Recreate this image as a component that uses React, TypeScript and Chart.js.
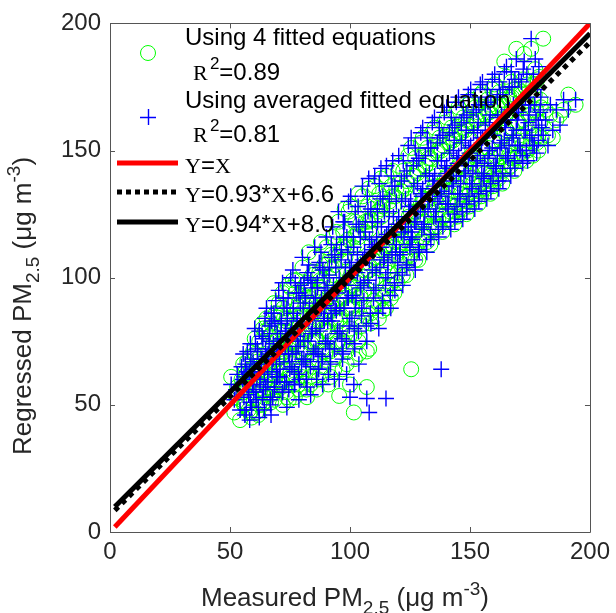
import React, { useEffect, useRef } from "react";
import { Chart, registerables } from "chart.js";

Chart.register(...registerables);

// Measured PM2.5 (x) shared by both regressed series
const measured = [
  50.5, 51.8, 53, 54.2, 52.5, 54.8,
  55.5, 56.2, 57, 57.8, 58.5, 59, 56.8, 59.6, 55.9, 58.2,
  60.3, 60.9, 61.5, 62.2, 62.8, 63.4, 64, 64.6, 61.2, 63.1, 64.3, 60.6, 62.5, 64.8,
  65.2, 65.7, 66.3, 66.9, 67.4, 68, 68.6, 69.1, 69.7, 65.9, 67.1, 68.3, 69.4, 66.6, 67.8, 69.9,
  70.3, 70.8, 71.4, 72, 72.5, 73.1, 73.7, 74.2, 74.8, 71.1, 72.8, 73.9, 70.6, 71.9, 74.5, 73.3,
  75.3, 75.9, 76.4, 77, 77.6, 78.1, 78.7, 79.3, 79.8, 76.2, 77.9, 78.9, 75.6, 76.8, 79.5, 78.4,
  80.2, 80.8, 81.3, 81.9, 82.5, 83, 83.6, 84.2, 84.7, 80.5, 81.6, 82.8, 83.9, 84.9, 82.1, 80.9,
  85.3, 85.8, 86.4, 87, 87.5, 88.1, 88.6, 89.2, 89.8, 85.6, 86.7, 87.9, 89, 89.6, 86.1, 88.3,
  90.2, 90.7, 91.3, 91.9, 92.4, 93, 93.5, 94.1, 94.7, 90.5, 91.6, 92.8, 93.8, 94.4, 91, 92.1,
  95.2, 95.8, 96.3, 96.9, 97.4, 98, 98.6, 99.1, 99.7, 95.5, 96.6, 97.8, 98.8, 99.4, 97.1, 99.9,
  100.3, 100.9, 101.5, 102, 102.6, 103.1, 103.7, 104.3, 104.8, 100.6, 101.8, 103.4, 104.5, 102.3,
  105.2, 105.8, 106.4, 107, 107.5, 108.1, 108.7, 109.3, 109.8, 106.1, 107.8, 109,
  110.3, 110.9, 111.5, 112, 112.6, 113.1, 113.7, 114.3, 114.8, 111.1, 112.9, 114,
  115.2, 115.8, 116.4, 117, 117.5, 118.1, 118.7, 119.3, 119.8, 116.1, 117.8, 119,
  120.3, 120.9, 121.5, 122, 122.6, 123.1, 123.7, 124.3, 124.8, 121.4, 125,
  125.5, 126, 126.6, 127.2, 127.8, 128.3, 128.9, 129.5, 129.9, 126.9,
  130.3, 130.9, 131.5, 132, 132.6, 133.1, 133.7, 134.3, 134.8, 131.2,
  135.2, 135.8, 136.4, 137, 137.5, 138.1, 138.7, 139.3, 139.8, 136.6,
  140.3, 140.9, 141.5, 142, 142.6, 143.1, 143.7, 144.3, 144.8, 141.2, 143.4, 144.6,
  145.2, 145.8, 146.4, 147, 147.5, 148.1, 148.7, 149.3, 149.8, 146.1, 148.4, 149.6,
  150.3, 150.9, 151.5, 152, 152.6, 153.1, 153.7, 154.3, 154.8, 151.2, 153.4, 154.6,
  155.2, 155.8, 156.4, 157, 157.5, 158.1, 158.7, 159.3, 159.8, 156.1, 158.4, 159.6,
  160.3, 160.9, 161.5, 162, 162.6, 163.1, 163.7, 164.3, 164.8, 161.4,
  165.2, 165.8, 166.4, 167, 167.5, 168.1, 168.7, 169.3, 169.8, 166.3,
  170.3, 170.9, 171.5, 172, 172.6, 173.1, 174, 174.6,
  175.5, 176.2, 177, 177.8, 178.5, 179.3,
  180.5, 181.5, 182.5, 183.5, 184.5,
  186, 187.5, 189, 191, 194,
  95.5, 100, 101.6, 107, 108, 115, 125.5, 138,
  // second pass of readings
  55.3, 55.8, 56.4, 56.8, 57.2, 57.5, 58.1, 58.5, 58.7, 59.3, 59.5, 59.9,
  60.3, 60.8, 61.4, 61.8, 62.2, 62.5, 63.1, 63.5, 63.7, 64.3, 64.5, 64.9,
  65.3, 65.8, 66.4, 66.8, 67.2, 67.5, 68.1, 68.5, 68.7, 69.3, 69.5, 69.9,
  70.3, 70.8, 71.4, 71.8, 72.2, 72.5, 73.1, 73.5, 73.7, 74.3, 74.5, 74.9,
  75.3, 75.8, 76.4, 76.8, 77.2, 77.5, 78.1, 78.5, 78.7, 79.3, 79.5, 79.9,
  80.3, 80.8, 81.4, 81.8, 82.2, 82.5, 83.1, 83.5, 83.7, 84.3, 84.5, 84.9,
  85.3, 85.8, 86.4, 86.8, 87.2, 87.5, 88.1, 88.5, 88.7, 89.3, 89.5, 89.9,
  90.3, 90.8, 91.4, 91.8, 92.2, 92.5, 93.1, 93.5, 93.7, 94.3, 94.5, 94.9,
  95.3, 95.8, 96.4, 96.8, 97.2, 97.5, 98.1, 98.5, 98.7, 99.3, 99.5, 99.9,
  100.3, 100.8, 101.4, 101.8, 102.2, 102.5, 103.1, 103.5, 103.7, 104.3, 104.5, 104.9,
  105.3, 105.8, 106.4, 106.8, 107.2, 107.5, 108.1, 108.5, 108.7, 109.3, 109.5, 109.9,
  110.3, 110.8, 111.4, 111.8, 112.2, 112.5, 113.1, 113.5, 113.7, 114.3, 114.5, 114.9,
  115.3, 115.8, 116.4, 116.8, 117.2, 117.5, 118.1, 118.5, 118.7, 119.3, 119.5, 119.9,
  120.3, 120.8, 121.4, 121.8, 122.2, 122.5, 123.1, 123.5, 123.7, 124.3, 124.5, 124.9,
  125.3, 125.8, 126.4, 126.8, 127.2, 127.5, 128.1, 128.5, 128.7, 129.3, 129.5, 129.9,
  130.3, 130.8, 131.4, 131.8, 132.2, 132.5, 133.1, 133.5, 133.7, 134.3, 134.5, 134.9,
  135.3, 135.8, 136.4, 136.8, 137.2, 137.5, 138.1, 138.5, 138.7, 139.3, 139.5, 139.9,
  140.3, 140.8, 141.4, 141.8, 142.2, 142.5, 143.1, 143.5, 143.7, 144.3, 144.5, 144.9,
  145.3, 145.8, 146.4, 146.8, 147.2, 147.5, 148.1, 148.5, 148.7, 149.3, 149.5, 149.9,
  150.3, 150.8, 151.4, 151.8, 152.2, 152.5, 153.1, 153.5, 153.7, 154.3, 154.5, 154.9,
  155.3, 155.8, 156.4, 156.8, 157.2, 157.5, 158.1, 158.5, 158.7, 159.3, 159.5, 159.9,
  160.3, 160.8, 161.4, 161.8, 162.2, 162.5, 163.1, 163.5, 163.7, 164.3, 164.5, 164.9,
  165.3, 165.8, 166.4, 166.8, 167.2, 167.5, 168.1, 168.5, 168.7, 169.3, 169.5, 169.9,
  170.3, 170.8, 171.4, 171.8, 172.2, 172.5, 173.1, 173.5, 173.7, 174.3, 174.5, 174.9,
  175.3, 175.8, 176.4, 176.8, 177.2, 177.5, 178.1, 178.5, 178.7, 179.3, 179.5, 179.9,
];

// Regressed PM2.5 using averaged fitted equation (blue +)
const regressedAvg = [
  58, 52, 62, 48, 56, 65,
  70, 46, 63, 54, 74, 49, 58, 67, 61, 44,
  80, 52, 71, 45, 63, 77, 56, 84, 60, 68, 48, 74, 58, 72,
  88, 62, 75, 50, 83, 68, 57, 91, 78, 70, 46, 86, 61, 81, 53, 72,
  95, 64, 82, 55, 88, 73, 49, 92, 67, 76, 59, 84, 70, 98, 56, 79,
  100, 70, 86, 58, 94, 77, 52, 90, 66, 103, 83, 60, 80, 63, 97, 73,
  108, 75, 92, 60, 100, 84, 54, 96, 70, 88, 67, 105, 78, 90, 57, 98,
  112, 80, 96, 64, 104, 88, 58, 100, 74, 92, 70, 110, 84, 95, 60, 67,
  116, 83, 101, 66, 108, 92, 60, 104, 78, 96, 72, 120, 88, 113, 62, 86,
  126, 88, 107, 68, 116, 97, 62, 110, 81, 100, 76, 122, 92, 130, 71, 104,
  132, 93, 112, 72, 121, 102, 66, 116, 85, 106, 80, 128, 96, 88,
  136, 98, 118, 75, 126, 107, 82, 122, 92, 110, 139, 113,
  140, 102, 122, 80, 131, 112, 88, 126, 97, 116, 143, 107,
  144, 106, 126, 88, 136, 116, 95, 130, 102, 120, 146, 110,
  148, 110, 130, 97, 140, 120, 104, 152, 126, 118, 112,
  155, 116, 136, 103, 146, 126, 110, 157, 132, 122,
  159, 120, 140, 110, 151, 130, 115, 161, 136, 126,
  163, 124, 146, 116, 155, 134, 120, 165, 141, 130,
  167, 127, 149, 119, 159, 138, 122, 169, 145, 133, 154, 128,
  171, 131, 153, 123, 163, 142, 126, 172, 149, 137, 158, 132,
  174, 135, 157, 127, 166, 146, 130, 176, 153, 141, 161, 136,
  177, 139, 160, 131, 169, 150, 134, 178, 156, 145, 164, 140,
  180, 143, 163, 135, 172, 153, 138, 181, 159, 148,
  183, 147, 166, 140, 175, 156, 143, 186, 162, 152,
  178, 150, 168, 145, 185, 158, 146, 164,
  194, 152, 168, 149, 160, 166,
  156, 162, 152, 168, 158,
  166, 160, 170, 166, 170,
  60, 53, 58, 52.5, 47, 52.5, 118, 64,
  // second pass of readings
  60, 53, 66, 48, 71, 56, 63, 51, 68, 58, 61, 55,
  64, 55, 72, 49, 79, 60, 68, 53, 76, 62, 66, 57,
  69, 59, 78, 52, 86, 63, 74, 56, 82, 66, 71, 61,
  73, 61, 83, 55, 92, 67, 79, 59, 88, 70, 76, 64,
  78, 65, 88, 58, 98, 71, 84, 62, 94, 75, 81, 68,
  82, 68, 93, 60, 102, 75, 88, 65, 99, 79, 85, 71,
  86, 72, 98, 64, 106, 79, 92, 69, 103, 83, 89, 75,
  91, 75, 104, 67, 113, 83, 97, 72, 109, 87, 94, 79,
  96, 79, 111, 70, 122, 88, 104, 75, 116, 92, 100, 84,
  101, 84, 116, 74, 126, 92, 109, 79, 120, 97, 105, 88,
  107, 91, 122, 81, 132, 99, 115, 86, 127, 103, 111, 95,
  112, 96, 127, 86, 137, 104, 120, 91, 132, 108, 116, 100,
  117, 102, 131, 93, 140, 109, 124, 98, 136, 113, 121, 106,
  124, 109, 138, 101, 146, 116, 131, 105, 142, 120, 128, 113,
  130, 115, 144, 107, 151, 122, 137, 111, 147, 126, 133, 119,
  135, 121, 148, 113, 155, 127, 141, 117, 151, 131, 138, 124,
  140, 126, 153, 119, 159, 132, 146, 122, 156, 136, 143, 129,
  144, 129, 157, 122, 163, 136, 150, 125, 160, 140, 147, 133,
  148, 133, 161, 126, 167, 140, 154, 129, 164, 144, 151, 137,
  152, 137, 165, 130, 171, 144, 158, 133, 168, 148, 155, 141,
  155, 140, 168, 134, 174, 147, 161, 137, 171, 151, 158, 144,
  158, 144, 171, 138, 177, 151, 164, 141, 174, 154, 161, 148,
  162, 148, 175, 143, 181, 155, 168, 146, 178, 158, 165, 152,
  165, 152, 177, 148, 182, 158, 171, 150, 180, 161, 168, 155,
  168, 156, 180, 152, 186, 162, 174, 154, 183, 165, 171, 159,
];

// Regressed PM2.5 using 4 fitted equations (green o)
const regressed4 = [
  61, 47, 57, 44, 53, 60,
  66, 50, 58, 48, 69, 45, 62, 71, 55, 47,
  76, 47, 67, 50, 58, 82, 51, 79, 64, 63, 53, 70, 55, 66,
  84, 57, 80, 54, 78, 64, 52, 86, 73, 66, 51, 90, 56, 77, 58, 68,
  90, 59, 86, 50, 84, 69, 53, 97, 62, 72, 64, 79, 74, 94, 52, 83,
  96, 66, 81, 53, 99, 73, 56, 86, 61, 99, 88, 65, 75, 58, 93, 78,
  104, 70, 97, 56, 95, 80, 58, 101, 65, 84, 72, 110, 74, 86, 53, 93,
  108, 76, 100, 60, 99, 84, 62, 105, 70, 88, 75, 114, 80, 91, 56, 72,
  112, 79, 106, 61, 104, 88, 64, 109, 74, 92, 77, 116, 84, 118, 58, 90,
  122, 84, 111, 64, 112, 93, 66, 115, 77, 96, 80, 127, 88, 126, 75, 100,
  128, 89, 116, 68, 117, 98, 70, 121, 81, 102, 84, 133, 92, 93,
  132, 94, 122, 71, 122, 103, 86, 127, 88, 106, 135, 117,
  136, 98, 126, 84, 127, 108, 92, 131, 93, 112, 139, 111,
  140, 102, 130, 92, 132, 112, 99, 135, 98, 116, 142, 114,
  144, 106, 134, 101, 136, 116, 108, 148, 131, 114, 108,
  151, 112, 140, 107, 142, 122, 114, 153, 137, 118,
  155, 116, 144, 114, 147, 126, 119, 157, 141, 122,
  159, 120, 150, 120, 151, 130, 124, 161, 146, 126,
  163, 123, 153, 123, 155, 134, 126, 165, 150, 129, 158, 124,
  167, 127, 157, 127, 159, 138, 130, 168, 154, 133, 162, 128,
  170, 131, 161, 131, 162, 142, 134, 172, 158, 137, 165, 132,
  173, 135, 164, 135, 165, 146, 138, 174, 161, 141, 168, 136,
  176, 139, 167, 139, 168, 149, 142, 185, 164, 144,
  179, 143, 170, 144, 171, 152, 147, 190, 167, 148,
  174, 146, 172, 149, 188, 154, 150, 168,
  190, 148, 172, 153, 156, 170,
  194, 166, 156, 164, 155,
  162, 164, 166, 172, 168,
  53.5, 58, 47, 57, 72, 88, 64, 130,
  // second pass of readings
  57, 50, 63, 51, 67, 60, 59, 47, 64, 62, 57, 52,
  60, 58, 68, 46, 75, 64, 64, 50, 80, 58, 70, 54,
  65, 62, 74, 56, 82, 67, 70, 60, 78, 63, 75, 57,
  69, 65, 79, 59, 88, 71, 75, 55, 84, 74, 72, 60,
  74, 69, 84, 62, 94, 75, 80, 58, 90, 71, 85, 64,
  78, 72, 89, 64, 98, 79, 92, 61, 95, 75, 81, 67,
  82, 76, 94, 68, 102, 83, 96, 65, 99, 79, 85, 71,
  87, 79, 100, 71, 109, 87, 101, 68, 105, 83, 90, 75,
  92, 83, 107, 74, 118, 92, 108, 71, 112, 88, 96, 80,
  97, 88, 112, 78, 122, 96, 113, 75, 116, 93, 101, 84,
  103, 95, 118, 85, 128, 103, 119, 82, 123, 99, 107, 91,
  108, 100, 123, 90, 133, 108, 124, 87, 128, 104, 112, 96,
  113, 106, 127, 97, 136, 113, 128, 94, 132, 109, 117, 102,
  120, 113, 134, 105, 142, 120, 135, 101, 138, 116, 124, 109,
  126, 119, 140, 111, 147, 126, 141, 107, 143, 122, 129, 115,
  131, 125, 144, 117, 151, 131, 145, 113, 147, 127, 134, 120,
  136, 130, 149, 123, 155, 136, 150, 118, 152, 132, 139, 125,
  140, 133, 153, 126, 159, 140, 154, 121, 156, 136, 143, 129,
  144, 137, 157, 130, 163, 144, 158, 125, 160, 140, 147, 133,
  148, 141, 161, 134, 167, 148, 162, 129, 164, 144, 151, 137,
  151, 144, 164, 138, 170, 151, 165, 133, 167, 147, 154, 140,
  154, 148, 167, 142, 173, 155, 168, 137, 170, 150, 157, 144,
  158, 152, 171, 147, 177, 159, 172, 142, 174, 154, 161, 148,
  161, 156, 173, 152, 178, 162, 175, 146, 176, 157, 164, 151,
  164, 160, 176, 156, 182, 166, 178, 150, 179, 161, 167, 155,
];

// Reference / fitted lines (end points)
const lineX = [2, 200];
const lineIdentity = [2, 200];
const lineFitDotted = [8.5, 192.6]; // Y=0.93*X+6.6
const lineFitSolid = [9.9, 196]; // Y=0.94*X+8.0

const axisTicks = [0, 50, 100, 150, 200];

const SANS = '"Liberation Sans", Arial, Helvetica, sans-serif';
const SERIF = '"Liberation Serif", "DejaVu Serif", serif';
const GREEN = "#00ff00";
const BLUE = "#0000ff";
const RED = "#ff0000";
const AXIS_COLOR = "#262626";
const FRAME_COLOR = "#555555";

type Seg = { t: string; font: string; dy: number };

function segWidth(ctx: CanvasRenderingContext2D, segs: Seg[]) {
  let w = 0;
  for (const s of segs) {
    ctx.font = s.font;
    w += ctx.measureText(s.t).width;
  }
  return w;
}

function drawSegs(ctx: CanvasRenderingContext2D, segs: Seg[], x: number, y: number) {
  let cx = x;
  ctx.textAlign = "left";
  ctx.textBaseline = "alphabetic";
  for (const s of segs) {
    ctx.font = s.font;
    ctx.fillText(s.t, cx, y + s.dy);
    cx += ctx.measureText(s.t).width;
  }
}

const overlayPlugin = {
  id: "overlay",
  afterDraw(chart: any) {
    const ctx: CanvasRenderingContext2D = chart.ctx;
    const { left, right, top, bottom } = chart.chartArea;
    const xs = chart.scales.x;
    const ys = chart.scales.y;
    ctx.save();
    // frame box
    ctx.strokeStyle = FRAME_COLOR;
    ctx.lineWidth = 1;
    ctx.beginPath();
    ctx.rect(Math.round(left) + 0.5, Math.round(top) + 0.5, Math.round(right - left), Math.round(bottom - top));
    ctx.stroke();
    // inward ticks
    const tl = 5;
    ctx.beginPath();
    for (const v of axisTicks) {
      const px = Math.round(xs.getPixelForValue(v)) + 0.5;
      ctx.moveTo(px, bottom);
      ctx.lineTo(px, bottom - tl);
      ctx.moveTo(px, top);
      ctx.lineTo(px, top + tl);
      const py = Math.round(ys.getPixelForValue(v)) + 0.5;
      ctx.moveTo(left, py);
      ctx.lineTo(left + tl, py);
      ctx.moveTo(right, py);
      ctx.lineTo(right - tl, py);
    }
    ctx.stroke();

    // axis titles
    ctx.fillStyle = AXIS_COLOR;
    const big = `24px ${SANS}`;
    const title = `26px ${SANS}`;
    const small = `19px ${SANS}`;
    const xTitle: Seg[] = [
      { t: "Measured PM", font: title, dy: 0 },
      { t: "2.5", font: small, dy: 8 },
      { t: " (μg m", font: title, dy: 0 },
      { t: "-3", font: small, dy: -11 },
      { t: ")", font: title, dy: 0 },
    ];
    const wx = segWidth(ctx, xTitle);
    drawSegs(ctx, xTitle, 345 - wx / 2, 606);

    const yTitle: Seg[] = [
      { t: "Regressed PM", font: title, dy: 0 },
      { t: "2.5", font: small, dy: 8 },
      { t: " (μg m", font: title, dy: 0 },
      { t: "-3", font: small, dy: -11 },
      { t: ")", font: title, dy: 0 },
    ];
    const wy = segWidth(ctx, yTitle);
    ctx.save();
    ctx.translate(31, 306);
    ctx.rotate(-Math.PI / 2);
    drawSegs(ctx, yTitle, -wy / 2, 0);
    ctx.restore();

    // legend
    ctx.fillStyle = "#000000";
    ctx.strokeStyle = GREEN;
    ctx.lineWidth = 1;
    ctx.beginPath();
    ctx.arc(148, 53, 7.5, 0, Math.PI * 2);
    ctx.stroke();
    ctx.strokeStyle = BLUE;
    ctx.lineWidth = 1.4;
    ctx.beginPath();
    ctx.moveTo(140, 117.5);
    ctx.lineTo(156, 117.5);
    ctx.moveTo(148.5, 109);
    ctx.lineTo(148.5, 125);
    ctx.stroke();
    ctx.lineWidth = 5;
    ctx.strokeStyle = RED;
    ctx.beginPath();
    ctx.moveTo(117, 163);
    ctx.lineTo(178, 163);
    ctx.stroke();
    ctx.strokeStyle = "#000000";
    ctx.setLineDash([5, 4]);
    ctx.beginPath();
    ctx.moveTo(117, 192);
    ctx.lineTo(178, 192);
    ctx.stroke();
    ctx.setLineDash([]);
    ctx.beginPath();
    ctx.moveTo(117, 222);
    ctx.lineTo(178, 222);
    ctx.stroke();

    const serif = `22px ${SERIF}`;
    const sup = `17px ${SANS}`;
    drawSegs(ctx, [{ t: "Using 4 fitted equations", font: big, dy: 0 }], 185, 45);
    drawSegs(ctx, [
      { t: "R", font: serif, dy: 0 },
      { t: " ", font: `8px ${SANS}`, dy: 0 },
      { t: "2", font: sup, dy: -11 },
      { t: "=0.89", font: big, dy: 0 },
    ], 193, 80);
    drawSegs(ctx, [{ t: "Using averaged fitted equation", font: big, dy: 0 }], 185, 108);
    drawSegs(ctx, [
      { t: "R", font: serif, dy: 0 },
      { t: " ", font: `8px ${SANS}`, dy: 0 },
      { t: "2", font: sup, dy: -11 },
      { t: "=0.81", font: big, dy: 0 },
    ], 193, 142);
    drawSegs(ctx, [
      { t: "Y", font: serif, dy: 0 },
      { t: "=", font: big, dy: 0 },
      { t: "X", font: serif, dy: 0 },
    ], 185, 173);
    drawSegs(ctx, [
      { t: "Y", font: serif, dy: 0 },
      { t: "=0.93*", font: big, dy: 0 },
      { t: "X", font: serif, dy: 0 },
      { t: "+6.6", font: big, dy: 0 },
    ], 185, 202);
    drawSegs(ctx, [
      { t: "Y", font: serif, dy: 0 },
      { t: "=0.94*", font: big, dy: 0 },
      { t: "X", font: serif, dy: 0 },
      { t: "+8.0", font: big, dy: 0 },
    ], 185, 232);
    ctx.restore();
  },
};

export default function App() {
  const ref = useRef<HTMLCanvasElement | null>(null);
  useEffect(() => {
    if (!ref.current) return;
    const greenPts = measured.map((x, i) => ({ x, y: regressed4[i] }));
    const bluePts = measured.map((x, i) => ({ x, y: regressedAvg[i] }));
    const mk = (ys: number[]) => lineX.map((x, i) => ({ x, y: ys[i] }));
    const chart = new Chart(ref.current, {
      type: "scatter",
      data: {
        datasets: [
          {
            label: "Using 4 fitted equations R2=0.89",
            data: greenPts,
            pointStyle: "circle",
            pointRadius: 7.5,
            pointBorderWidth: 1,
            borderColor: GREEN,
            backgroundColor: "rgba(0,0,0,0)",
            order: 5,
          },
          {
            label: "Using averaged fitted equation R2=0.81",
            data: bluePts,
            pointStyle: "cross",
            pointRadius: 8,
            pointBorderWidth: 1.4,
            borderColor: BLUE,
            backgroundColor: BLUE,
            order: 4,
          },
          {
            label: "Y=X",
            data: mk(lineIdentity),
            showLine: true,
            borderColor: RED,
            borderWidth: 5,
            pointRadius: 0,
            order: 3,
          },
          {
            label: "Y=0.93*X+6.6",
            data: mk(lineFitDotted),
            showLine: true,
            borderColor: "#000000",
            borderWidth: 5,
            borderDash: [5, 5],
            pointRadius: 0,
            order: 2,
          },
          {
            label: "Y=0.94*X+8.0",
            data: mk(lineFitSolid),
            showLine: true,
            borderColor: "#000000",
            borderWidth: 5,
            pointRadius: 0,
            order: 1,
          },
        ],
      },
      options: {
        animation: false,
        responsive: false,
        devicePixelRatio: 1,
        layout: { padding: { left: 0, top: 22, right: 19, bottom: 0 } },
        plugins: { legend: { display: false }, tooltip: { enabled: false } },
        events: [],
        scales: {
          x: {
            type: "linear",
            min: 0,
            max: 200,
            afterBuildTicks: (s: any) => {
              s.ticks = axisTicks.map((v) => ({ value: v }));
            },
            afterFit: (s: any) => {
              s.height = 81;
            },
            grid: { display: false, drawTicks: false },
            border: { display: false },
            ticks: {
              color: AXIS_COLOR,
              font: { family: SANS, size: 24 },
              padding: 6,
              autoSkip: false,
              maxRotation: 0,
            },
          },
          y: {
            type: "linear",
            min: 0,
            max: 200,
            afterBuildTicks: (s: any) => {
              s.ticks = axisTicks.map((v) => ({ value: v }));
            },
            afterFit: (s: any) => {
              s.width = 110;
            },
            grid: { display: false, drawTicks: false },
            border: { display: false },
            ticks: {
              color: AXIS_COLOR,
              font: { family: SANS, size: 24 },
              padding: 9,
              autoSkip: false,
            },
          },
        },
      },
      plugins: [overlayPlugin],
    } as any);
    return () => chart.destroy();
  }, []);
  return (
    <div style={{ position: "absolute", left: 0, top: 0, width: 616, height: 613 }}>
      <canvas ref={ref} width={616} height={613} style={{ display: "block" }} />
    </div>
  );
}
